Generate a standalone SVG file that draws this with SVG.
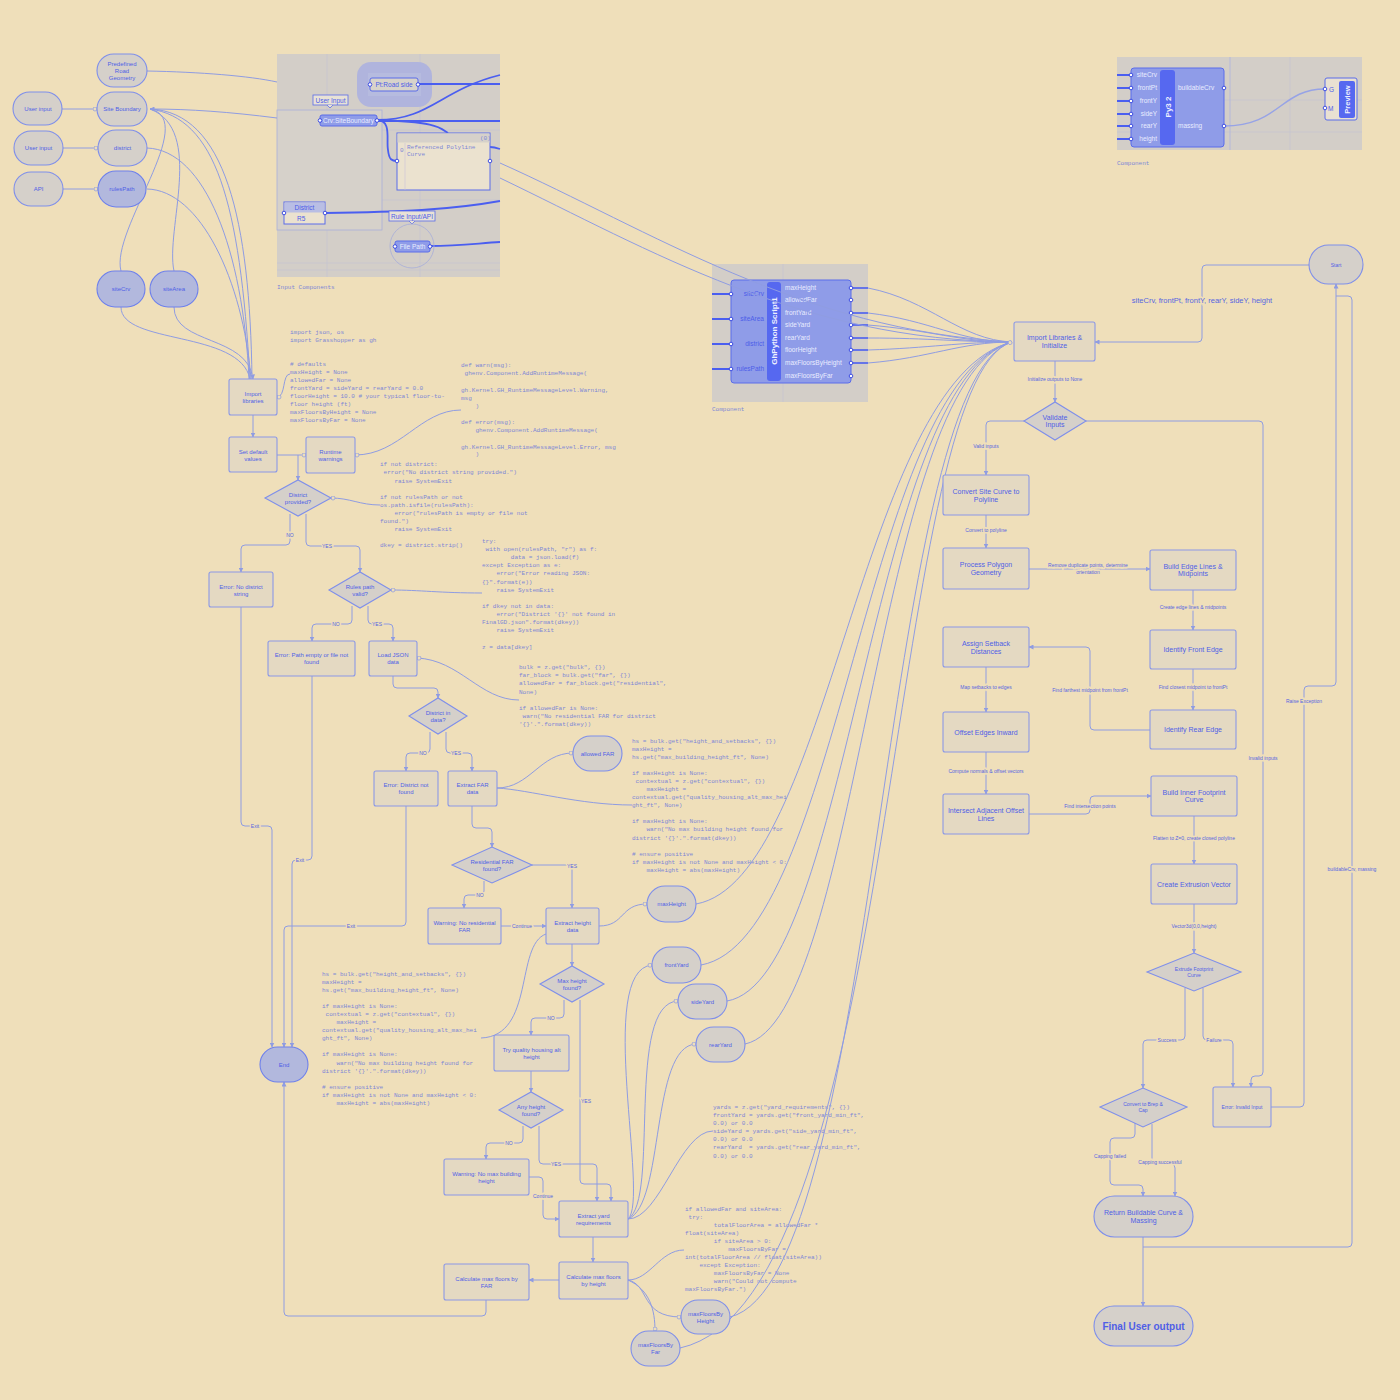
<svg xmlns="http://www.w3.org/2000/svg" width="1400" height="1400" viewBox="0 0 1400 1400">
<defs>
<style>
.n{fill:#E4D9C2;stroke:#8B98E6;stroke-width:1.1}
.p{fill:#D5D0CA;stroke:#7F8FEA;stroke-width:1.1}
.pb{fill:#B2B8DD;stroke:#6E80EC;stroke-width:1.1}
.t{font-family:"Liberation Sans",Arial,sans-serif;font-size:6px;fill:#4F5FE6;text-anchor:middle}
.t7{font-size:7px}
.t5{font-size:5px}
.c{fill:none;stroke:#8F9CE2;stroke-width:1}
.a{marker-end:url(#ar)}
.o{marker-end:url(#ci)}
.l{font-family:"Liberation Sans",Arial,sans-serif;font-size:5px;fill:#5666E0;text-anchor:middle;stroke:#EFDFBA;stroke-width:3;paint-order:stroke}
.code{font-family:"Liberation Mono","DejaVu Sans Mono",monospace;font-size:6px;fill:#7D86D6}
.gp{fill:#D3CEC8}
.grid{stroke:#C5C3D3;stroke-width:0.6;fill:none}
.w{fill:none;stroke:#4A5EF0;stroke-width:1.8}
.gn{fill:#8F9CE8;stroke:#5A6CEA;stroke-width:1}
.gt{font-family:"Liberation Sans",Arial,sans-serif;font-size:6.5px;fill:#4D5DE8}
.gw{font-family:"Liberation Sans",Arial,sans-serif;font-size:6.5px;fill:#E9ECFF}
.port{fill:#FFFFFF;stroke:#2F40E0;stroke-width:0.9}
.cap{font-family:"Liberation Mono","DejaVu Sans Mono",monospace;font-size:6px;fill:#7D86D6}
</style>
<marker id="ar" viewBox="0 0 10 10" refX="9" refY="5" markerWidth="5" markerHeight="5" orient="auto"><path d="M0,0L10,5L0,10z" fill="#8F9CE2"/></marker>
<marker id="ci" viewBox="0 0 10 10" refX="9" refY="5" markerWidth="5" markerHeight="5" orient="auto"><circle cx="5" cy="5" r="4" fill="#EFDFBA" stroke="#8F9CE2" stroke-width="1.5"/></marker>
</defs>
<rect width="1400" height="1400" fill="#EFDFBA"/>

<!-- Grasshopper input panel -->
<g id="input-components">
<rect class="gp" x="277" y="54" width="223" height="223"/>
<path class="grid" d="M327,54V277M420,54V277M277,130H500M277,200H500M277,263H500M277,270H500"/>
<rect x="357" y="62" width="75" height="45" rx="14" fill="#A7AEE2" opacity="0.8"/>
<rect x="368" y="73" width="53" height="23" fill="#B6BBDF"/>
<rect x="277" y="110" width="105" height="120" fill="#D6D1CA" stroke="#AAB0DA" stroke-width="0.8"/>
<path class="w" d="M418,84H500"/>
<path class="w" d="M377,120C430,120 440,90 500,75"/>
<path class="w" d="M377,121H500"/>
<path class="w" d="M377,120C440,122 440,128 448,133"/>
<path class="w" d="M377,120C392,120 386,140 388,150C389,160 392,161 397,161"/>
<path class="w" d="M490,147C494,147 497,148 500,149"/>
<path class="w" d="M325,213C400,212 450,210 500,201"/>
<path class="w" d="M430,246C460,246 480,243 500,242"/>
<rect x="370" y="78" width="48" height="13" rx="2" fill="#D8D3CA" stroke="#5A6CEA"/>
<text class="gt" x="394" y="87" text-anchor="middle" font-size="6">Pt:Road side</text>
<circle class="port" cx="370" cy="84.5" r="1.8"/><circle class="port" cx="418" cy="84.5" r="1.8"/>
<rect x="313" y="95" width="35" height="10" fill="#E8E2D6" stroke="#5A6CEA" stroke-width="0.8"/>
<path d="M327,105L330,108L333,105" fill="#E8E2D6" stroke="#5A6CEA" stroke-width="0.8"/>
<text class="gt" x="330.5" y="102.5" text-anchor="middle" font-size="6">User Input</text>
<rect class="gn" x="320" y="115" width="57" height="11" rx="2"/>
<text class="gw" x="348.5" y="122.5" text-anchor="middle" font-size="6">Crv:SiteBoundary</text>
<circle class="port" cx="320" cy="120.5" r="1.8"/><circle class="port" cx="377" cy="120.5" r="1.8"/>
<rect x="397" y="133" width="93" height="57" fill="#EBE2CF" stroke="#5A6CEA"/>
<rect x="397.5" y="133.5" width="92" height="9" fill="#D6D1CA"/>
<path d="M405,143V190" stroke="#C9C4DA" stroke-width="0.6"/>
<text class="cap" x="480" y="140">(0)</text>
<text class="cap" x="400" y="152">0</text>
<text class="cap" x="407" y="149">Referenced Polyline</text>
<text class="cap" x="407" y="156">Curve</text>
<circle class="port" cx="397" cy="161" r="1.8"/><circle class="port" cx="490" cy="161" r="1.8"/>
<rect x="284" y="202" width="41" height="22" fill="#EBE2CF" stroke="#5A6CEA"/>
<rect x="284.5" y="202.5" width="40" height="10" fill="#B9BEE4"/>
<text class="gt" x="304.5" y="210" text-anchor="middle" font-size="6">District</text>
<text class="gt" x="297" y="220.5" font-size="6" fill="#7D86D6">R5</text>
<circle class="port" cx="284" cy="213" r="1.8"/><circle class="port" cx="325" cy="213" r="1.8"/>
<rect x="389" y="211" width="46" height="10" fill="#E8E2D6" stroke="#5A6CEA" stroke-width="0.8"/>
<path d="M409,221L412,224L415,221" fill="#E8E2D6" stroke="#5A6CEA" stroke-width="0.8"/>
<text class="gt" x="412" y="218.5" text-anchor="middle" font-size="6">Rule Input/API</text>
<circle cx="412" cy="246" r="22" fill="none" stroke="#A7ADD9" stroke-width="0.8"/>
<rect class="gn" x="395" y="241" width="35" height="11" rx="2"/>
<text class="gw" x="412.5" y="248.5" text-anchor="middle" font-size="6">File Path</text>
<circle class="port" cx="395" cy="246.5" r="1.8"/><circle class="port" cx="430" cy="246.5" r="1.8"/>
<text class="cap" x="277" y="289">Input Components</text>
</g>

<!-- GhPython script component -->
<g id="ghpython-script">
<rect class="gp" x="712" y="264" width="156" height="138"/>
<path class="grid" d="M783,264V402"/>
<path class="w" d="M712,294H731M712,319H731M712,344H731M712,369H731"/>
<path class="w" d="M851,288H868M851,313H868M851,325H868M851,338H868M851,350H868M851,363H868" stroke-width="1.4" opacity="0.8"/>
<rect class="gn" x="731" y="280" width="120" height="103" rx="3"/>
<rect x="767" y="282" width="14" height="99" rx="3" fill="#5668F0"/>
<text x="774" y="331" transform="rotate(-90 774 331)" text-anchor="middle" dominant-baseline="central" font-family="Liberation Sans,Arial,sans-serif" font-size="8" font-weight="bold" fill="#EEF0FF">GhPython Script1</text>
<g class="gt" text-anchor="end">
<text x="764" y="296">siteCrv</text><text x="764" y="321">siteArea</text><text x="764" y="346">district</text><text x="764" y="371">rulesPath</text>
</g>
<g class="gw">
<text x="785" y="290">maxHeight</text><text x="785" y="302">allowedFar</text><text x="785" y="315">frontYard</text><text x="785" y="327">sideYard</text><text x="785" y="340">rearYard</text><text x="785" y="352">floorHeight</text><text x="785" y="365">maxFloorsByHeight</text><text x="785" y="378">maxFloorsByFar</text>
</g>
<g class="port">
<circle cx="731" cy="294" r="1.8"/><circle cx="731" cy="319" r="1.8"/><circle cx="731" cy="344" r="1.8"/><circle cx="731" cy="369" r="1.8"/>
<circle cx="851" cy="288" r="1.8"/><circle cx="851" cy="300" r="1.8"/><circle cx="851" cy="313" r="1.8"/><circle cx="851" cy="325" r="1.8"/><circle cx="851" cy="338" r="1.8"/><circle cx="851" cy="350" r="1.8"/><circle cx="851" cy="363" r="1.8"/><circle cx="851" cy="376" r="1.8"/>
</g>
<text class="cap" x="712" y="411">Component</text>
</g>

<!-- Py3 component -->
<g id="py3-component">
<rect class="gp" x="1117" y="57" width="245" height="93"/>
<path class="grid" d="M1117,100H1362M1117,132H1362M1290,57V150"/>
<path d="M1230,57V150" stroke="#AEB4DE" stroke-width="0.8"/>
<path class="w" d="M1117,75H1131M1117,88H1131M1117,101H1131M1117,114H1131M1117,126H1131M1117,139H1131"/>
<path d="M1224,126C1280,126 1280,89 1325,89" fill="none" stroke="#97A3E6" stroke-width="1.5"/>
<rect class="gn" x="1131" y="68" width="93" height="79" rx="3"/>
<rect x="1160" y="70" width="15" height="75" rx="3" fill="#5668F0"/>
<text x="1168" y="107" transform="rotate(-90 1168 107)" text-anchor="middle" dominant-baseline="central" font-family="Liberation Sans,Arial,sans-serif" font-size="8" font-weight="bold" fill="#EEF0FF">Py3 2</text>
<g class="gw" text-anchor="end">
<text x="1157" y="77">siteCrv</text><text x="1157" y="90">frontPt</text><text x="1157" y="103">frontY</text><text x="1157" y="116">sideY</text><text x="1157" y="128">rearY</text><text x="1157" y="141">height</text>
</g>
<g class="gw"><text x="1178" y="90">buildableCrv</text><text x="1178" y="128">massing</text></g>
<g class="port">
<circle cx="1131" cy="75" r="1.8"/><circle cx="1131" cy="88" r="1.8"/><circle cx="1131" cy="101" r="1.8"/><circle cx="1131" cy="114" r="1.8"/><circle cx="1131" cy="126" r="1.8"/><circle cx="1131" cy="139" r="1.8"/>
<circle cx="1224" cy="88" r="1.8"/><circle cx="1224" cy="126" r="1.8"/>
</g>
<rect x="1325" y="78" width="32" height="42" rx="2" fill="#E9E1D2" stroke="#5A6CEA"/>
<rect x="1339" y="81" width="16" height="37" rx="2" fill="#5668F0"/>
<text x="1347" y="99.5" transform="rotate(-90 1347 99.5)" text-anchor="middle" dominant-baseline="central" font-family="Liberation Sans,Arial,sans-serif" font-size="7.5" font-weight="bold" fill="#EEF0FF">Preview</text>
<text class="gt" x="1329" y="91.5">G</text><text class="gt" x="1328" y="110.5">M</text>
<circle class="port" cx="1325" cy="89" r="1.8"/><circle class="port" cx="1325" cy="108" r="1.8"/>
<text class="cap" x="1117" y="165">Component</text>
</g>

<!-- code texts -->
<g id="code" class="code">
<text x="290" y="334">import json, os</text>
<text x="290" y="342">import Grasshopper as gh</text>
<text x="290" y="366"># defaults</text>
<text x="290" y="374">maxHeight = None</text>
<text x="290" y="382">allowedFar = None</text>
<text x="290" y="390">frontYard = sideYard = rearYard = 0.0</text>
<text x="290" y="398">floorHeight = 10.0 # your typical floor-to-</text>
<text x="290" y="406">floor height (ft)</text>
<text x="290" y="414">maxFloorsByHeight = None</text>
<text x="290" y="422">maxFloorsByFar = None</text>

<text x="461" y="367">def warn(msg):</text>
<text x="464.6" y="375">ghenv.Component.AddRuntimeMessage(</text>
<text x="461" y="392">gh.Kernel.GH_RuntimeMessageLevel.Warning,</text>
<text x="461" y="400">msg</text>
<text x="475.4" y="408">)</text>
<text x="461" y="424">def error(msg):</text>
<text x="475.4" y="432">ghenv.Component.AddRuntimeMessage(</text>
<text x="461" y="449">gh.Kernel.GH_RuntimeMessageLevel.Error, msg</text>
<text x="475.4" y="456">)</text>

<text x="380" y="466">if not district:</text>
<text x="383.6" y="474">error("No district string provided.")</text>
<text x="394.4" y="483">raise SystemExit</text>
<text x="380" y="499">if not rulesPath or not</text>
<text x="380" y="507">os.path.isfile(rulesPath):</text>
<text x="394.4" y="515">error("rulesPath is empty or file not</text>
<text x="380" y="523">found.")</text>
<text x="394.4" y="531">raise SystemExit</text>
<text x="380" y="547">dkey = district.strip()</text>

<text x="482" y="543">try:</text>
<text x="485.6" y="551">with open(rulesPath, "r") as f:</text>
<text x="510.8" y="559">data = json.load(f)</text>
<text x="482" y="567">except Exception as e:</text>
<text x="496.4" y="575">error("Error reading JSON:</text>
<text x="482" y="584">{}".format(e))</text>
<text x="496.4" y="592">raise SystemExit</text>
<text x="482" y="608">if dkey not in data:</text>
<text x="496.4" y="616">error("District '{}' not found in</text>
<text x="482" y="624">FinalGD.json".format(dkey))</text>
<text x="496.4" y="632">raise SystemExit</text>
<text x="482" y="649">z = data[dkey]</text>

<text x="519" y="669">bulk = z.get("bulk", {})</text>
<text x="519" y="677">far_block = bulk.get("far", {})</text>
<text x="519" y="685">allowedFar = far_block.get("residential",</text>
<text x="519" y="694">None)</text>
<text x="519" y="710">if allowedFar is None:</text>
<text x="522.6" y="718">warn("No residential FAR for district</text>
<text x="519" y="726">'{}'.".format(dkey))</text>

<text x="632" y="743">hs = bulk.get("height_and_setbacks", {})</text>
<text x="632" y="751">maxHeight =</text>
<text x="632" y="759">hs.get("max_building_height_ft", None)</text>
<text x="632" y="775">if maxHeight is None:</text>
<text x="635.6" y="783">contextual = z.get("contextual", {})</text>
<text x="646.4" y="791">maxHeight =</text>
<text x="632" y="799">contextual.get("quality_housing_alt_max_hei</text>
<text x="632" y="807">ght_ft", None)</text>
<text x="632" y="823">if maxHeight is None:</text>
<text x="646.4" y="831">warn("No max building height found for</text>
<text x="632" y="840">district '{}'.".format(dkey))</text>
<text x="632" y="856"># ensure positive</text>
<text x="632" y="864">if maxHeight is not None and maxHeight &lt; 0:</text>
<text x="646.4" y="872">maxHeight = abs(maxHeight)</text>

<text x="322" y="976">hs = bulk.get("height_and_setbacks", {})</text>
<text x="322" y="984">maxHeight =</text>
<text x="322" y="992">hs.get("max_building_height_ft", None)</text>
<text x="322" y="1008">if maxHeight is None:</text>
<text x="325.6" y="1016">contextual = z.get("contextual", {})</text>
<text x="336.4" y="1024">maxHeight =</text>
<text x="322" y="1032">contextual.get("quality_housing_alt_max_hei</text>
<text x="322" y="1040">ght_ft", None)</text>
<text x="322" y="1056">if maxHeight is None:</text>
<text x="336.4" y="1065">warn("No max building height found for</text>
<text x="322" y="1073">district '{}'.".format(dkey))</text>
<text x="322" y="1089"># ensure positive</text>
<text x="322" y="1097">if maxHeight is not None and maxHeight &lt; 0:</text>
<text x="336.4" y="1105">maxHeight = abs(maxHeight)</text>

<text x="713" y="1109">yards = z.get("yard_requirements", {})</text>
<text x="713" y="1117">frontYard = yards.get("front_yard_min_ft",</text>
<text x="713" y="1125">0.0) or 0.0</text>
<text x="713" y="1133">sideYard = yards.get("side_yard_min_ft",</text>
<text x="713" y="1141">0.0) or 0.0</text>
<text x="713" y="1149">rearYard&#160; = yards.get("rear_yard_min_ft",</text>
<text x="713" y="1158">0.0) or 0.0</text>

<text x="685" y="1211">if allowedFar and siteArea:</text>
<text x="688.6" y="1219">try:</text>
<text x="713.8" y="1227">totalFloorArea = allowedFar *</text>
<text x="685" y="1235">float(siteArea)</text>
<text x="713.8" y="1243">if siteArea &gt; 0:</text>
<text x="728.2" y="1251">maxFloorsByFar =</text>
<text x="685" y="1259">int(totalFloorArea // float(siteArea))</text>
<text x="699.4" y="1267">except Exception:</text>
<text x="713.8" y="1275">maxFloorsByFar = None</text>
<text x="713.8" y="1283">warn("Could not compute</text>
<text x="685" y="1291">maxFloorsByFar.")</text>
</g>

<!-- connectors -->
<g id="connectors">
<path class="c" d="M147,71C200,72 250,76 277,82"/>
<path class="c a" d="M277,118C230,112 190,109 150,109"/>
<path class="c o" d="M62,109H97"/>
<path class="c o" d="M63,148H98"/>
<path class="c o" d="M63,189H98"/>
<path class="c" d="M150,109C200,120 110,230 121,271"/>
<path class="c" d="M150,109C205,130 165,230 174,271"/>
<path class="c" d="M150,109C215,118 240,200 250,379"/>
<path class="c" d="M150,109C225,112 250,220 252,379"/>
<path class="c" d="M147,148C205,150 243,250 249,379"/>
<path class="c" d="M147,189C200,190 243,280 251,379"/>
<path class="c" d="M121,307C121,345 240,330 250,379"/>
<path class="c a" d="M174,307C174,345 248,335 253,379"/>
<path class="c o" d="M290,374C282,374 286,397 277,397"/>
<path class="c a" d="M253,415V437"/>
<path class="c o" d="M277,455H306"/>
<path class="c a" d="M298,455V480"/>
<path class="c o" d="M461,410C420,410 400,455 355,455"/>
<path class="c o" d="M380,505C360,505 350,498 331,498"/>
<path class="c a" d="M290,514V541Q290,545 286,545H245Q241,545 241,549V572"/>
<path class="c a" d="M306,514V542Q306,546 310,546H356Q360,546 360,550V572"/>
<path class="c o" d="M482,593C440,593 420,590 391,590"/>
<path class="c a" d="M352,606V620Q352,624 348,624H316Q312,624 312,628V641"/>
<path class="c a" d="M368,606V620Q368,624 372,624H389Q393,624 393,628V641"/>
<path class="c o" d="M519,700C480,700 460,660 417,658"/>
<path class="c a" d="M393,676V684Q393,688 397,688H434Q438,688 438,692V698"/>
<path class="c a" d="M430,732V749Q430,753 426,753H410Q406,753 406,757V771"/>
<path class="c a" d="M446,732V749Q446,753 450,753H468Q472,753 472,757V771"/>
<path class="c o" d="M497,788C530,788 540,753 573,753"/>
<path class="c" d="M632,805C580,805 530,790 497,788"/>
<path class="c a" d="M472,806V824Q472,828 476,828H488Q492,828 492,832V847"/>
<path class="c a" d="M484,881V891Q484,895 480,895H468Q464,895 464,899V908"/>
<path class="c a" d="M532,865H568Q572,865 572,869V908"/>
<path class="c a" d="M501,926H546"/>
<path class="c o" d="M599,926C625,926 620,904 647,904"/>
<path class="c a" d="M572,944V966"/>
<path class="c" d="M546,934C515,945 535,1036 481,1038"/>
<path class="c a" d="M564,1000V1014Q564,1018 560,1018H535Q531,1018 531,1022V1035"/>
<path class="c a" d="M580,1000V1180Q580,1184 584,1184H607Q611,1184 611,1188V1201"/>
<path class="c a" d="M531,1071V1092"/>
<path class="c a" d="M523,1126V1139Q523,1143 519,1143H490Q486,1143 486,1147V1159"/>
<path class="c a" d="M539,1126V1160Q539,1164 543,1164H593Q597,1164 597,1168V1201"/>
<path class="c a" d="M529,1177H539Q543,1177 543,1181V1215Q543,1219 547,1219H559"/>
<path class="c" d="M713,1131C680,1131 660,1219 628,1219"/>
<path class="c o" d="M628,1219C650,1200 595,970 652,965"/>
<path class="c o" d="M628,1219C660,1200 625,1003 678,1001"/>
<path class="c o" d="M628,1219C665,1205 650,1046 696,1044"/>
<path class="c a" d="M593,1237V1262"/>
<path class="c a" d="M559,1280H529"/>
<path class="c" d="M684,1250C660,1250 650,1280 628,1280"/>
<path class="c o" d="M628,1280C650,1285 640,1317 681,1317"/>
<path class="c o" d="M628,1280C650,1290 655,1310 655,1331"/>
<path class="c a" d="M486,1300V1312Q486,1316 482,1316H288Q284,1316 284,1312V1082"/>
<path class="c a" d="M241,607V822Q241,826 245,826H268Q272,826 272,830V1047"/>
<path class="c a" d="M312,676V856Q312,860 308,860H296Q292,860 292,864V1047"/>
<path class="c a" d="M406,806V922Q406,926 402,926H288Q284,926 284,930V1047"/>

<path class="c" d="M500,163C650,230 800,330 1012,342"/>
<path class="c" d="M500,178C650,250 800,340 1012,342"/>
<path class="c" d="M868,288C930,300 960,340 1012,342"/>
<path class="c" d="M868,313C930,320 960,342 1012,342"/>
<path class="c" d="M868,325C930,330 960,342 1012,342"/>
<path class="c" d="M868,338C930,338 960,342 1012,342"/>
<path class="c" d="M868,350C930,348 960,342 1012,342"/>
<path class="c" d="M868,363C930,358 960,342 1012,342"/>
<path class="c" d="M696,904C830,880 860,380 1012,342"/>
<path class="c" d="M701,965C840,940 865,380 1012,342"/>
<path class="c" d="M727,1001C850,980 870,380 1012,342"/>
<path class="c" d="M745,1044C860,1020 875,380 1012,342"/>
<path class="c" d="M730,1317C880,1280 880,380 1012,342"/>
<path class="c o" d="M680,1348C900,1300 885,380 1012,342"/>

<path class="c a" d="M1309,265H1206Q1202,265 1202,269V338Q1202,342 1198,342H1095"/>
<path class="c a" d="M1055,361V402"/>
<path class="c a" d="M1024,421H990Q986,421 986,425V475"/>
<path class="c a" d="M1086,421H1259Q1263,421 1263,425V1072Q1263,1076 1259,1076H1255Q1251,1076 1251,1080V1087"/>
<path class="c a" d="M986,515V548"/>
<path class="c a" d="M1029,569H1150"/>
<path class="c a" d="M1193,590V630"/>
<path class="c a" d="M1193,669V710"/>
<path class="c a" d="M1150,730H1094Q1090,730 1090,726V651Q1090,647 1086,647H1029"/>
<path class="c a" d="M986,667V712"/>
<path class="c a" d="M986,752V794"/>
<path class="c a" d="M1029,814H1086Q1090,814 1090,810V800Q1090,796 1094,796H1151"/>
<path class="c a" d="M1194,816V864"/>
<path class="c a" d="M1194,904V953"/>
<path class="c a" d="M1185,988V1036Q1185,1040 1181,1040H1147Q1143,1040 1143,1044V1088"/>
<path class="c a" d="M1203,988V1036Q1203,1040 1207,1040H1229Q1233,1040 1233,1044V1087"/>
<path class="c a" d="M1271,1107H1300Q1304,1107 1304,1103V690Q1304,686 1308,686H1332Q1336,686 1336,682V284"/>
<path class="c" d="M1143,1247H1348Q1352,1247 1352,1243V300Q1352,296 1348,296H1336"/>
<path class="c a" d="M1135,1123V1134Q1135,1138 1131,1138H1114Q1110,1138 1110,1142V1181Q1110,1185 1114,1185H1139Q1143,1185 1143,1189V1196"/>
<path class="c a" d="M1152,1124V1160Q1152,1164 1156,1164H1171Q1175,1164 1175,1168V1196"/>
<path class="c a" d="M1143,1237V1306"/>
</g>

<!-- connector labels -->
<g id="labels">
<text class="l" x="290" y="537">NO</text>
<text class="l" x="327" y="548">YES</text>
<text class="l" x="336" y="626">NO</text>
<text class="l" x="377" y="626">YES</text>
<text class="l" x="423" y="755">NO</text>
<text class="l" x="456" y="755">YES</text>
<text class="l" x="480" y="897">NO</text>
<text class="l" x="572" y="868">YES</text>
<text class="l" x="522" y="928">Continue</text>
<text class="l" x="551" y="1020">NO</text>
<text class="l" x="586" y="1103">YES</text>
<text class="l" x="509" y="1145">NO</text>
<text class="l" x="556" y="1166">YES</text>
<text class="l" x="543" y="1198">Continue</text>
<text class="l" x="255" y="828">Exit</text>
<text class="l" x="300" y="862">Exit</text>
<text class="l" x="351" y="928">Exit</text>
<text class="l" x="1202" y="303" style="font-size:7.5px">siteCrv, frontPt, frontY, rearY, sideY, height</text>
<text class="l" x="1055" y="381">Initialize outputs to None</text>
<text class="l" x="986" y="448">Valid inputs</text>
<text class="l" x="1263" y="760">Invalid inputs</text>
<text class="l" x="986" y="532">Convert to polyline</text>
<text class="l" x="1088" y="567">Remove duplicate points, determine</text>
<text class="l" x="1088" y="574">orientation</text>
<text class="l" x="1193" y="609">Create edge lines &amp; midpoints</text>
<text class="l" x="1193" y="689">Find closest midpoint to frontPt</text>
<text class="l" x="1090" y="692">Find farthest midpoint from frontPt</text>
<text class="l" x="986" y="689">Map setbacks to edges</text>
<text class="l" x="986" y="773">Compute normals &amp; offset vectors</text>
<text class="l" x="1090" y="808">Find intersection points</text>
<text class="l" x="1194" y="840">Flatten to Z=0, create closed polyline</text>
<text class="l" x="1194" y="928">Vector3d(0,0,height)</text>
<text class="l" x="1167" y="1042">Success</text>
<text class="l" x="1214" y="1042">Failure</text>
<text class="l" x="1304" y="703">Raise Exception</text>
<text class="l" x="1352" y="871">buildableCrv, massing</text>
<text class="l" x="1110" y="1158">Capping failed</text>
<text class="l" x="1160" y="1164">Capping successful</text>
</g>

<!-- left input nodes -->
<g id="n-predefined"><rect class="p" x="97" y="54" width="50" height="33" rx="16.5"/><text class="t" x="122" y="66">Predefined</text><text class="t" x="122" y="73">Road</text><text class="t" x="122" y="80">Geometry</text></g>
<g id="n-userinput1"><rect class="p" x="13" y="92" width="49" height="33" rx="16.5"/><text class="t" x="38" y="111">User input</text></g>
<g id="n-siteboundary"><rect class="p" x="97" y="92" width="50" height="34" rx="17"/><text class="t" x="122" y="111">Site Boundary</text></g>
<g id="n-userinput2"><rect class="p" x="14" y="131" width="49" height="34" rx="17"/><text class="t" x="38.5" y="150">User input</text></g>
<g id="n-district"><rect class="p" x="98" y="130" width="49" height="36" rx="18"/><text class="t" x="122.5" y="150">district</text></g>
<g id="n-api"><rect class="p" x="14" y="172" width="49" height="34" rx="17"/><text class="t" x="38.5" y="191">API</text></g>
<g id="n-rulespath"><rect class="pb" x="98" y="171" width="48" height="36" rx="18"/><text class="t" x="122" y="191">rulesPath</text></g>
<g id="n-sitecrv"><rect class="pb" x="97" y="271" width="48" height="36" rx="18"/><text class="t" x="121" y="291">siteCrv</text></g>
<g id="n-sitearea"><rect class="pb" x="150" y="271" width="48" height="36" rx="18"/><text class="t" x="174" y="291">siteArea</text></g>

<!-- left flowchart -->
<g id="n-import"><rect class="n" x="229" y="379" width="48" height="36" rx="2"/><text class="t" x="253" y="396">Import</text><text class="t" x="253" y="403">libraries</text></g>
<g id="n-setdefault"><rect class="n" x="229" y="437" width="48" height="35" rx="2"/><text class="t" x="253" y="454">Set default</text><text class="t" x="253" y="461">values</text></g>
<g id="n-runtime"><rect class="n" x="306" y="437" width="49" height="36" rx="2"/><text class="t" x="330.5" y="454">Runtime</text><text class="t" x="330.5" y="461">warnings</text></g>
<g id="n-districtprovided"><polygon class="p" points="265,498 298,480 331,498 298,516"/><text class="t" x="298" y="497">District</text><text class="t" x="298" y="504">provided?</text></g>
<g id="n-errnodistrict"><rect class="n" x="209" y="572" width="64" height="35" rx="2"/><text class="t" x="241" y="589">Error: No district</text><text class="t" x="241" y="596">string</text></g>
<g id="n-rulesvalid"><polygon class="p" points="329,590 360,572 391,590 360,608"/><text class="t" x="360" y="589">Rules path</text><text class="t" x="360" y="596">valid?</text></g>
<g id="n-errpath"><rect class="n" x="268" y="641" width="87" height="35" rx="2"/><text class="t" x="311.5" y="657">Error: Path empty or file not</text><text class="t" x="311.5" y="664">found</text></g>
<g id="n-loadjson"><rect class="n" x="369" y="641" width="48" height="35" rx="2"/><text class="t" x="393" y="657">Load JSON</text><text class="t" x="393" y="664">data</text></g>
<g id="n-districtindata"><polygon class="p" points="409,716 438,698 467,716 438,734"/><text class="t" x="438" y="715">District in</text><text class="t" x="438" y="722">data?</text></g>
<g id="n-errdistrict"><rect class="n" x="374" y="771" width="64" height="35" rx="2"/><text class="t" x="406" y="787">Error: District not</text><text class="t" x="406" y="794">found</text></g>
<g id="n-extractfar"><rect class="n" x="448" y="771" width="49" height="35" rx="2"/><text class="t" x="472.5" y="787">Extract FAR</text><text class="t" x="472.5" y="794">data</text></g>
<g id="n-allowedfar"><rect class="p" x="573" y="736" width="49" height="35" rx="17.5"/><text class="t" x="597.5" y="755.5">allowed FAR</text></g>
<g id="n-resfar"><polygon class="p" points="452,865 492,847 532,865 492,883"/><text class="t" x="492" y="864">Residential FAR</text><text class="t" x="492" y="871">found?</text></g>
<g id="n-warnfar"><rect class="n" x="428" y="908" width="73" height="36" rx="2"/><text class="t" x="464.5" y="925">Warning: No residential</text><text class="t" x="464.5" y="932">FAR</text></g>
<g id="n-extractheight"><rect class="n" x="546" y="908" width="53" height="36" rx="2"/><text class="t" x="572.5" y="925">Extract height</text><text class="t" x="572.5" y="932">data</text></g>
<g id="n-maxheight"><rect class="p" x="647" y="886" width="49" height="36" rx="18"/><text class="t" x="671.5" y="906">maxHeight</text></g>
<g id="n-maxfound"><polygon class="p" points="540,984 572,966 604,984 572,1002"/><text class="t" x="572" y="983">Max height</text><text class="t" x="572" y="990">found?</text></g>
<g id="n-tryquality"><rect class="n" x="494" y="1035" width="75" height="36" rx="2"/><text class="t" x="531.5" y="1052">Try quality housing alt</text><text class="t" x="531.5" y="1059">height</text></g>
<g id="n-anyheight"><polygon class="p" points="499,1110 531,1092 563,1110 531,1128"/><text class="t" x="531" y="1109">Any height</text><text class="t" x="531" y="1116">found?</text></g>
<g id="n-warnheight"><rect class="n" x="444" y="1159" width="85" height="36" rx="2"/><text class="t" x="486.5" y="1176">Warning: No max building</text><text class="t" x="486.5" y="1183">height</text></g>
<g id="n-extractyard"><rect class="n" x="559" y="1201" width="69" height="36" rx="2"/><text class="t" x="593.5" y="1218">Extract yard</text><text class="t" x="593.5" y="1225">requirements</text></g>
<g id="n-frontyard"><rect class="p" x="652" y="947" width="49" height="36" rx="18"/><text class="t" x="676.5" y="967">frontYard</text></g>
<g id="n-sideyard"><rect class="p" x="678" y="984" width="49" height="35" rx="17.5"/><text class="t" x="702.5" y="1003.5">sideYard</text></g>
<g id="n-rearyard"><rect class="p" x="696" y="1027" width="49" height="35" rx="17.5"/><text class="t" x="720.5" y="1046.5">rearYard</text></g>
<g id="n-calcheight"><rect class="n" x="559" y="1262" width="69" height="37" rx="2"/><text class="t" x="593.5" y="1279">Calculate max floors</text><text class="t" x="593.5" y="1286">by height</text></g>
<g id="n-calcfar"><rect class="n" x="444" y="1264" width="85" height="36" rx="2"/><text class="t" x="486.5" y="1281">Calculate max floors by</text><text class="t" x="486.5" y="1288">FAR</text></g>
<g id="n-mfbh"><rect class="p" x="681" y="1300" width="49" height="34" rx="17"/><text class="t" x="705.5" y="1316">maxFloorsBy</text><text class="t" x="705.5" y="1323">Height</text></g>
<g id="n-mfbf"><rect class="p" x="631" y="1331" width="49" height="35" rx="17.5"/><text class="t" x="655.5" y="1347">maxFloorsBy</text><text class="t" x="655.5" y="1354">Far</text></g>
<g id="n-end"><rect class="pb" x="260" y="1047" width="48" height="35" rx="17.5"/><text class="t" x="284" y="1066.5">End</text></g>

<!-- right flowchart -->
<g id="n-start"><rect class="p" x="1309" y="245" width="54" height="39" rx="19.5"/><text class="t t5" x="1336" y="267">Start</text></g>
<g id="n-importinit"><rect class="n" x="1014" y="322" width="81" height="39" rx="2"/><text class="t t7" x="1054.5" y="340">Import Libraries &amp;</text><text class="t t7" x="1054.5" y="347.5">Initialize</text></g>
<g id="n-validate"><polygon class="p" points="1024,421 1055,402 1086,421 1055,440"/><text class="t t7" x="1055" y="419.5">Validate</text><text class="t t7" x="1055" y="427">Inputs</text></g>
<g id="n-convertsite"><rect class="n" x="943" y="475" width="86" height="40" rx="2"/><text class="t t7" x="986" y="494">Convert Site Curve to</text><text class="t t7" x="986" y="501.5">Polyline</text></g>
<g id="n-process"><rect class="n" x="943" y="548" width="86" height="41" rx="2"/><text class="t t7" x="986" y="567">Process Polygon</text><text class="t t7" x="986" y="574.5">Geometry</text></g>
<g id="n-buildedge"><rect class="n" x="1150" y="550" width="86" height="40" rx="2"/><text class="t t7" x="1193" y="568.5">Build Edge Lines &amp;</text><text class="t t7" x="1193" y="576">Midpoints</text></g>
<g id="n-front"><rect class="n" x="1150" y="630" width="86" height="39" rx="2"/><text class="t t7" x="1193" y="652">Identify Front Edge</text></g>
<g id="n-rear"><rect class="n" x="1150" y="710" width="86" height="39" rx="2"/><text class="t t7" x="1193" y="732">Identify Rear Edge</text></g>
<g id="n-assign"><rect class="n" x="943" y="627" width="86" height="40" rx="2"/><text class="t t7" x="986" y="646">Assign Setback</text><text class="t t7" x="986" y="653.5">Distances</text></g>
<g id="n-offset"><rect class="n" x="943" y="712" width="86" height="40" rx="2"/><text class="t t7" x="986" y="734.5">Offset Edges Inward</text></g>
<g id="n-intersect"><rect class="n" x="943" y="794" width="86" height="40" rx="2"/><text class="t t7" x="986" y="813">Intersect Adjacent Offset</text><text class="t t7" x="986" y="820.5">Lines</text></g>
<g id="n-buildinner"><rect class="n" x="1151" y="776" width="86" height="40" rx="2"/><text class="t t7" x="1194" y="794.5">Build Inner Footprint</text><text class="t t7" x="1194" y="802">Curve</text></g>
<g id="n-extrusionvec"><rect class="n" x="1151" y="864" width="86" height="40" rx="2"/><text class="t t7" x="1194" y="886.5">Create Extrusion Vector</text></g>
<g id="n-extrude"><polygon class="p" points="1147,972 1194,953 1241,972 1194,991"/><text class="t t5" x="1194" y="971">Extrude Footprint</text><text class="t t5" x="1194" y="977">Curve</text></g>
<g id="n-errinvalid"><rect class="n" x="1213" y="1087" width="58" height="40" rx="2"/><text class="t t5" x="1242" y="1109">Error: Invalid Input</text></g>
<g id="n-brep"><polygon class="p" points="1100,1107 1143,1088 1187,1107 1143,1127"/><text class="t t5" x="1143" y="1106">Convert to Brep &amp;</text><text class="t t5" x="1143" y="1112">Cap</text></g>
<g id="n-return"><rect class="p" x="1094" y="1196" width="99" height="41" rx="20.5"/><text class="t t7" x="1143.5" y="1215">Return Buildable Curve &amp;</text><text class="t t7" x="1143.5" y="1223">Massing</text></g>
<g id="n-final"><rect class="p" x="1094" y="1306" width="99" height="40" rx="20"/><text class="t" x="1143.5" y="1330" style="font-size:10px;font-weight:bold">Final User output</text></g>
</svg>
